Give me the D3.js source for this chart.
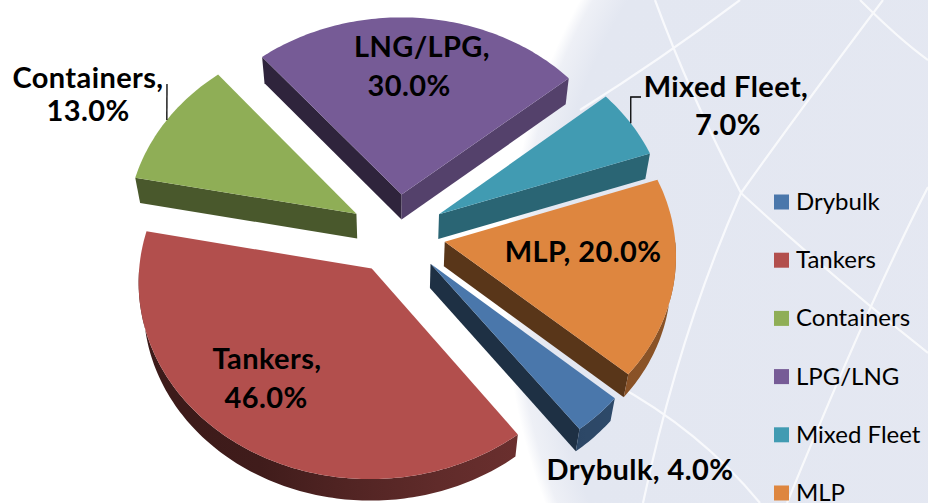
<!DOCTYPE html>
<html lang="en">
<head>
<meta charset="UTF-8">
<title>Fleet mix 3D pie</title>
<script src="https://d3js.org/d3.v7.min.js"></script>
<style>
  body { margin: 0; background: #fff; }
  svg { display: block; }
  text { font-family: Lato, "Open Sans", sans-serif; }
</style>
</head>
<body>
<div id="chart"></div>
<script>
// data
const categories = ["Drybulk", "Tankers", "Containers", "LPG/LNG", "Mixed Fleet", "MLP"];
const labelNames = ["Drybulk", "Tankers", "Containers", "LNG/LPG", "Mixed Fleet", "MLP"];
const shares = [4.0, 46.0, 13.0, 30.0, 7.0, 20.0];
const colors = ["#4a77ab", "#b24f4d", "#8fae56", "#765b96", "#419bb2", "#de863f"];

const width = 928, height = 503;

// 3d pie settings
const R = 230, thick = 46, explode = 48;
const elev = 57 * Math.PI / 180, F = 2000;
const cx = 397.5, cy = 234;
const startDeg = 131;

const svg = d3.select("#chart").append("svg")
    .attr("width", width).attr("height", height);
const defs = svg.append("defs");

// background globe
const gX = 1100, gY = 289, gR = 595;
const bg = defs.append("radialGradient").attr("id", "globe")
    .attr("cx", 0.5).attr("cy", 0.5).attr("r", 0.5);
bg.append("stop").attr("offset", 0).attr("stop-color", "#e5e8f2");
bg.append("stop").attr("offset", 0.93).attr("stop-color", "#e3e7f1");
bg.append("stop").attr("offset", 0.98).attr("stop-color", "#eef0f6");
bg.append("stop").attr("offset", 1).attr("stop-color", "#ffffff");
defs.append("clipPath").attr("id", "globeClip")
  .append("circle").attr("cx", gX).attr("cy", gY).attr("r", gR - 8);

svg.append("rect").attr("width", width).attr("height", height).attr("fill", "#fff");
svg.append("circle").attr("cx", gX).attr("cy", gY).attr("r", gR).attr("fill", "url(#globe)");

const deco = svg.append("g").attr("clip-path", "url(#globeClip)")
    .attr("fill", "none").attr("stroke", "#fff").attr("stroke-width", 2.2).attr("opacity", 0.75);
[
  "M655,0 Q690,95 741,193 Q830,275 928,353",
  "M883,0 Q800,110 741,193 Q680,330 643,503",
  "M928,187 Q870,300 787,503",
  "M740,0 Q660,60 580,110",
  "M613,383 Q700,430 760,503",
  "M860,0 Q900,40 928,60"
].forEach(p => deco.append("path").attr("d", p));

// projection of a world point (X right, Y toward viewer, Z up)
function proj(X, Y, Z) {
  const yv = Y * Math.sin(elev) - Z * Math.cos(elev);
  const d = Y * Math.cos(elev) + Z * Math.sin(elev);
  const s = F / (F - d);
  return [cx + s * X, cy + s * yv];
}
const camY = F * Math.cos(elev);

function shade(c, f) {
  const k = d3.rgb(c);
  return d3.rgb(k.r * f, k.g * f, k.b * f).formatHex();
}
function lightOf(n) {
  return 0.4 + 0.33 * Math.max(0, Math.cos(n - Math.PI / 6));
}

const pie = d3.pie().sort(null).value(d => d)
    .startAngle(startDeg * Math.PI / 180)
    .endAngle(startDeg * Math.PI / 180 + 2 * Math.PI);
const arcs = pie(shares);

const line = d3.line();

const slices = arcs.map((a, i) => {
  const a0 = a.startAngle - Math.PI / 2;
  const a1 = a.endAngle - Math.PI / 2;
  const mid = (a0 + a1) / 2;
  const ox = explode * Math.cos(mid), oy = explode * Math.sin(mid);
  const pt = (phi, r, z) => proj(ox + r * Math.cos(phi), oy + r * Math.sin(phi), z);
  return {i, a0, a1, mid, ox, oy, pt};
});

function arcPts(s, b0, b1, z) {
  const n = Math.max(2, Math.ceil(Math.abs(b1 - b0) / (Math.PI / 180)));
  return d3.range(n + 1).map(k => s.pt(b0 + (b1 - b0) * k / n, R, z));
}

// paint back to front
const order = slices.slice().sort((p, q) => Math.sin(p.mid) - Math.sin(q.mid));
const gPie = svg.append("g");

order.forEach(s => {
  const g = gPie.append("g");
  const col = colors[s.i];

  // radial faces
  [[s.a0, s.a0 - Math.PI / 2], [s.a1, s.a1 + Math.PI / 2]].forEach(([phi, n]) => {
    const px = s.ox + R / 2 * Math.cos(phi), py = s.oy + R / 2 * Math.sin(phi);
    const vis = Math.cos(n) * (0 - px) + Math.sin(n) * (camY - py);
    if (vis <= 0) return;
    const pts = [s.pt(0, 0, 0), s.pt(phi, R, 0), s.pt(phi, R, -thick), s.pt(0, 0, -thick)];
    g.append("path").attr("d", line(pts) + "Z")
      .attr("fill", shade(col, lightOf(n)));
  });

  // outer wall, front half only
  [[0, Math.PI], [2 * Math.PI, 3 * Math.PI]].forEach(([lo, hi]) => {
    const b0 = Math.max(s.a0, lo), b1 = Math.min(s.a1, hi);
    if (b1 <= b0) return;
    const top = arcPts(s, b0, b1, 0);
    const bot = arcPts(s, b1, b0, -thick);
    const xs = top.map(p => p[0]);
    const xmin = d3.min(xs), xmax = d3.max(xs);
    const gid = "wall" + s.i + "_" + lo;
    const gr = defs.append("linearGradient").attr("id", gid)
        .attr("gradientUnits", "userSpaceOnUse")
        .attr("x1", xmin).attr("x2", xmax).attr("y1", 0).attr("y2", 0);
    d3.range(7).map(k => b0 + (b1 - b0) * k / 6)
      .map(phi => ({x: s.pt(phi, R, 0)[0], c: shade(col, lightOf(phi) * 0.85)}))
      .sort((p, q) => p.x - q.x)
      .forEach(st => gr.append("stop")
        .attr("offset", xmax > xmin ? (st.x - xmin) / (xmax - xmin) : 0)
        .attr("stop-color", st.c));
    g.append("path").attr("d", line(top.concat(bot)) + "Z")
      .attr("fill", "url(#" + gid + ")");
  });

  // top face
  const topPts = [s.pt(0, 0, 0)].concat(arcPts(s, s.a0, s.a1, 0));
  g.append("path").attr("d", line(topPts) + "Z").attr("fill", col);
});

// data labels
const fmt = v => d3.format(".1f")(v) + "%";
const labelLayout = {
  "Drybulk":     {lines: [[640, 480]], oneLine: true},
  "Tankers":     {lines: [[267, 369], [266, 408]]},
  "Containers":  {lines: [[88, 88], [88, 121]], leader: [167, 84]},
  "LNG/LPG":     {lines: [[422, 57], [409, 96]]},
  "Mixed Fleet": {lines: [[726, 97], [728, 135]], leader: [641, 97], elbow: true},
  "MLP":         {lines: [[583, 262]], oneLine: true}
};
const gLab = svg.append("g").attr("font-weight", 700).attr("font-size", 29)
    .attr("letter-spacing", 0.4)
    .attr("fill", "#000").attr("text-anchor", "middle");

slices.forEach(s => {
  const name = labelNames[s.i];
  const L = labelLayout[name];
  const texts = L.oneLine ? [name + ", " + fmt(shares[s.i])] : [name + ",", fmt(shares[s.i])];
  texts.forEach((t, k) => gLab.append("text")
    .attr("x", L.lines[k][0]).attr("y", L.lines[k][1]).text(t));
  if (L.leader) {
    const p = s.pt(s.mid, R, 0);
    const pts = L.elbow ? [p, [p[0], L.leader[1]], L.leader] : [p, L.leader];
    svg.append("path").attr("d", line(pts)).attr("fill", "none")
      .attr("stroke", "#000").attr("stroke-width", 1.3);
  }
});

// legend
const legY = d3.scalePoint().domain(categories).range([202, 493]);
const leg = svg.append("g").attr("font-size", 24).attr("fill", "#000");
categories.forEach((c, i) => {
  leg.append("rect").attr("x", 774).attr("y", legY(c) - 7.5)
    .attr("width", 15).attr("height", 15).attr("fill", colors[i]);
  leg.append("text").attr("x", 796).attr("y", legY(c) + 8).text(c);
});
</script>
</body>
</html>
